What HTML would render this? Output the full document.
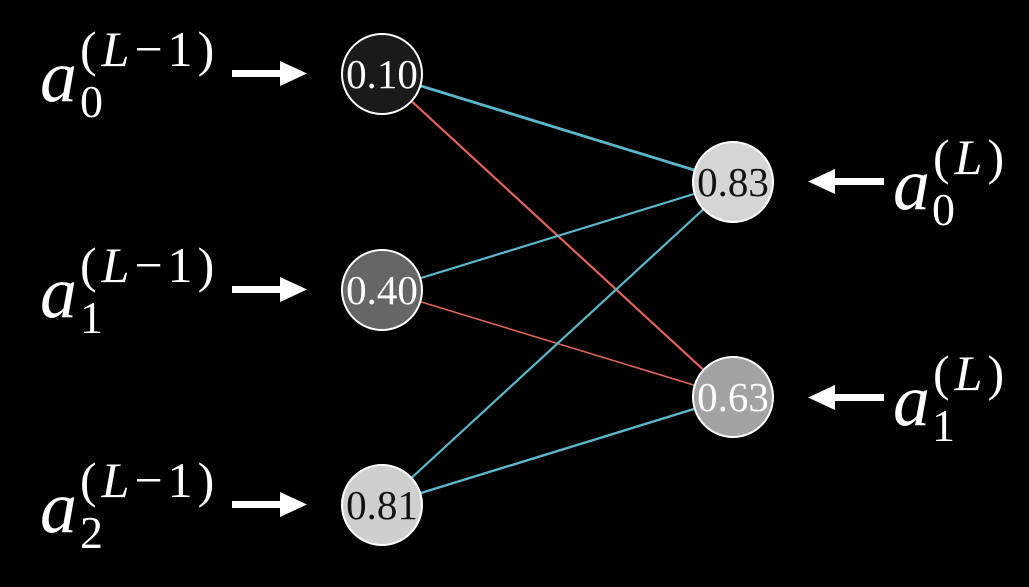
<!DOCTYPE html>
<html><head><meta charset="utf-8"><style>
html,body{margin:0;padding:0;background:#000;}
svg{display:block;}
</style></head><body>
<svg width="1029" height="587" viewBox="0 0 1029 587" xmlns="http://www.w3.org/2000/svg">
<rect width="1029" height="587" fill="#000"/>
<g stroke-width="2.2" fill="none">
<line x1="382" y1="74" x2="733" y2="182" stroke="#5bb8cc" stroke-width="2.8"/>
<line x1="382" y1="74" x2="733" y2="397" stroke="#e0645a"/>
<line x1="382" y1="290" x2="733" y2="182" stroke="#5bb8cc"/>
<line x1="382" y1="290" x2="733" y2="397" stroke="#e0645a" stroke-width="1.6"/>
<line x1="382" y1="505" x2="733" y2="182" stroke="#5bb8cc"/>
<line x1="382" y1="505" x2="733" y2="397" stroke="#5bb8cc" stroke-width="2.4"/>
</g>
<g stroke="#fff" stroke-width="2">
<circle cx="382" cy="74" r="40" fill="#1a1a1a"/>
<circle cx="382" cy="290" r="40" fill="#666"/>
<circle cx="382" cy="505" r="40" fill="#cfcfcf"/>
<circle cx="733" cy="182" r="40" fill="#d5d5d5"/>
<circle cx="733" cy="397" r="40" fill="#a3a3a3"/>
</g>
<g style="font-family:'Liberation Serif',serif;font-size:41px" text-anchor="middle">
<text x="382" y="88" fill="#fff">0.10</text>
<text x="382" y="304" fill="#fff">0.40</text>
<text x="382" y="519" fill="#111">0.81</text>
<text x="733" y="196" fill="#111">0.83</text>
<text x="733" y="411" fill="#fff">0.63</text>
</g>
<g fill="#fff">
<rect x="232" y="70" width="52" height="7"/><polygon points="280,61 307,73.5 280,86"/>
<rect x="232" y="286" width="52" height="7"/><polygon points="280,277 307,289.5 280,302"/>
<rect x="232" y="501" width="52" height="7"/><polygon points="280,492 307,504.5 280,517"/>
<rect x="830" y="178" width="54" height="7"/><polygon points="835,169 808,181.5 835,194"/>
<rect x="830" y="394" width="54" height="7"/><polygon points="835,385 808,397.5 835,410"/>
</g>
<g fill="#fff" style="font-family:'Liberation Serif',serif">
<text x="40" y="101" style="font-size:74px;font-style:italic">a</text>
<text x="80" y="117" style="font-size:46px">0</text>
<text x="80" y="66" style="font-size:50px;letter-spacing:5px">(<tspan style="font-style:italic">L</tspan>−1)</text>
<text x="40" y="317" style="font-size:74px;font-style:italic">a</text>
<text x="80" y="333" style="font-size:46px">1</text>
<text x="80" y="282" style="font-size:50px;letter-spacing:5px">(<tspan style="font-style:italic">L</tspan>−1)</text>
<text x="40" y="532" style="font-size:74px;font-style:italic">a</text>
<text x="80" y="548" style="font-size:46px">2</text>
<text x="80" y="497" style="font-size:50px;letter-spacing:5px">(<tspan style="font-style:italic">L</tspan>−1)</text>
<text x="893" y="209" style="font-size:74px;font-style:italic">a</text>
<text x="932" y="225" style="font-size:46px">0</text>
<text x="933" y="174" style="font-size:50px;letter-spacing:5px">(<tspan style="font-style:italic">L</tspan>)</text>
<text x="893" y="425" style="font-size:74px;font-style:italic">a</text>
<text x="932" y="441" style="font-size:46px">1</text>
<text x="933" y="390" style="font-size:50px;letter-spacing:5px">(<tspan style="font-style:italic">L</tspan>)</text>
</g>
</svg>
</body></html>
